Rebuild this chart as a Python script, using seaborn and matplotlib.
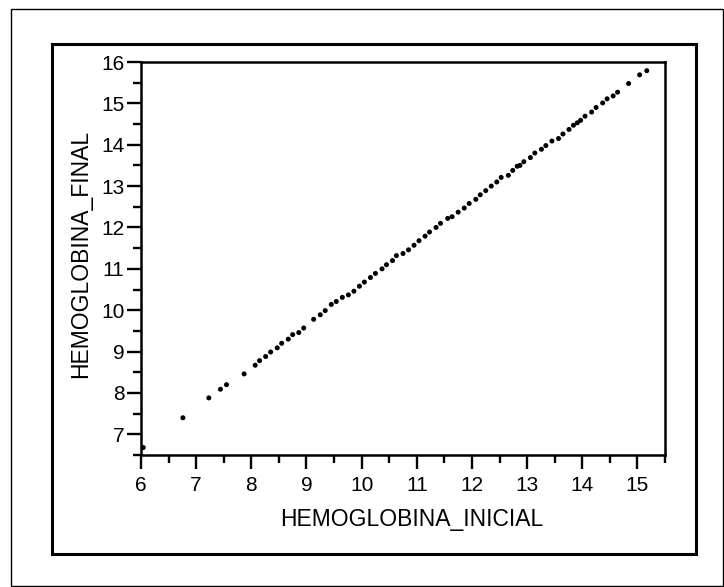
import matplotlib
matplotlib.use("Agg")
import matplotlib.pyplot as plt
from matplotlib.patches import Rectangle
from matplotlib.ticker import MultipleLocator
import pandas as pd
import seaborn as sns

# Initial and final hemoglobin readings (g/dL)
hemoglobina_inicial = [
    6.04, 6.76, 7.23, 7.44, 7.55, 7.87, 8.07, 8.15, 8.26, 8.35,
    8.47, 8.55, 8.67, 8.75, 8.86, 8.95, 9.13, 9.25, 9.34,
    9.45, 9.54, 9.65, 9.76, 9.86, 9.96, 10.05, 10.16, 10.25, 10.37,
    10.45, 10.56, 10.63, 10.75, 10.85, 10.95, 11.04, 11.15, 11.23, 11.35,
    11.43, 11.56, 11.64, 11.75, 11.86, 11.95, 12.07, 12.15, 12.25,
    12.35, 12.45,
    12.53, 12.66, 12.74, 12.82, 12.87, 12.94, 13.06, 13.14, 13.26, 13.34,
    13.45, 13.57, 13.65, 13.76, 13.84, 13.91, 13.97, 14.05, 14.17, 14.25,
    14.37, 14.45, 14.56, 14.64, 14.84, 15.04, 15.17,
]
hemoglobina_final = [
    6.68, 7.40, 7.88, 8.09, 8.20, 8.46, 8.67, 8.78, 8.88, 8.99,
    9.09, 9.20, 9.30, 9.41, 9.46, 9.57, 9.78, 9.89, 9.99,
    10.14, 10.21, 10.31, 10.37, 10.46, 10.58, 10.68, 10.79, 10.89, 11.00,
    11.10, 11.20, 11.32, 11.37, 11.46, 11.57, 11.68, 11.79, 11.89, 12.00,
    12.10, 12.22, 12.26, 12.37, 12.47, 12.58, 12.68, 12.79, 12.89,
    13.00, 13.10,
    13.21, 13.26, 13.38, 13.48, 13.50, 13.59, 13.69, 13.80, 13.89, 13.98,
    14.09, 14.15, 14.26, 14.37, 14.47, 14.53, 14.59, 14.69, 14.79, 14.90,
    15.01, 15.11, 15.18, 15.27, 15.48, 15.69, 15.79,
]

x_label = "HEMOGLOBINA_INICIAL"
y_label = "HEMOGLOBINA_FINAL"

df = pd.DataFrame({x_label: hemoglobina_inicial, y_label: hemoglobina_final})

sns.set_style("white")
plt.rcParams["font.family"] = ["Liberation Sans", "DejaVu Sans"]

W, H = 724, 587
fig = plt.figure(figsize=(W / 100, H / 100), dpi=100)

# Axes placed in pixel terms
left, right, top, bottom = 141, 665, 62, 455
ax = fig.add_axes([left / W, 1 - bottom / H, (right - left) / W, (bottom - top) / H])

sns.scatterplot(data=df, x=x_label, y=y_label, ax=ax, color="black",
                s=13, linewidth=0, edgecolor="none", zorder=3)

ax.set_xlim(6, 15.5)
ax.set_ylim(6.5, 16)
ax.xaxis.set_major_locator(MultipleLocator(1))
ax.xaxis.set_minor_locator(MultipleLocator(0.5))
ax.yaxis.set_major_locator(MultipleLocator(1))
ax.yaxis.set_minor_locator(MultipleLocator(0.5))

for sp in ax.spines.values():
    sp.set_visible(True)
    sp.set_color("black")
    sp.set_linewidth(1.8)

ax.tick_params(axis="both", which="major", direction="out", length=10, width=1.7,
               color="black", labelsize=15, labelcolor="black",
               bottom=True, left=True, top=False, right=False)
ax.tick_params(axis="x", which="major", pad=5)
ax.tick_params(axis="y", which="major", pad=2)
ax.tick_params(axis="both", which="minor", direction="out", length=5.5, width=1.7,
               color="black", bottom=True, left=True, top=False, right=False)

ax.set_xlabel(x_label, fontsize=16.5, color="black")
ax.set_ylabel(y_label, fontsize=16.5, color="black")
ax.xaxis.label.set_verticalalignment("center")
ax.yaxis.label.set_verticalalignment("center")
ax.xaxis.set_label_coords(0.517, -0.165)
ax.yaxis.set_label_coords(-0.1145, 0.511)

# Inner heavy frame and thin outer border
fig.patches.append(Rectangle((51.7 / W, 1 - 554 / H), (696 - 51.7) / W, (554 - 44) / H,
                             transform=fig.transFigure, fill=False,
                             edgecolor="black", linewidth=2.2))
fig.patches.append(Rectangle((11 / W, 1 / H), (722.5 - 11) / W, (586 - 9.4) / H,
                             transform=fig.transFigure, fill=False,
                             edgecolor="black", linewidth=1.0))

fig.savefig("out.png", dpi=100, facecolor="white")
